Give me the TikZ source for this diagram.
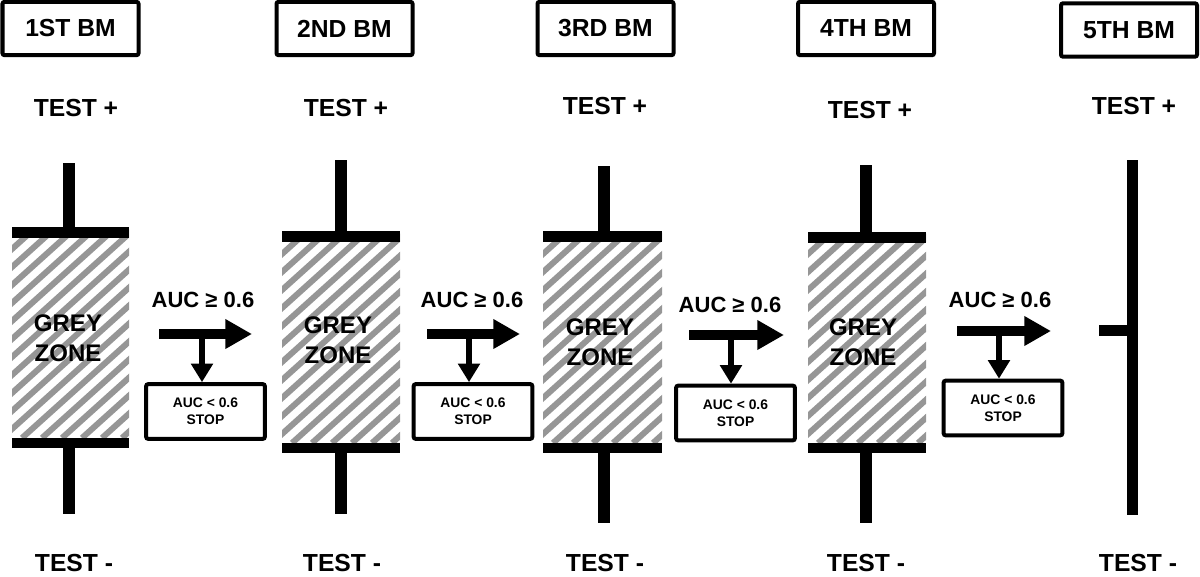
\documentclass[tikz,border=0pt]{standalone}
\usepackage{fontspec}
\setmainfont{Liberation Sans}
\usetikzlibrary{arrows.meta}
\definecolor{stripe}{RGB}{150,150,150}

\begin{document}
\begin{tikzpicture}[x=0.75pt,y=-0.75pt,
  bmbox/.style={rectangle,draw,line width=3pt,rounded corners=1.5pt,
                minimum width=102pt,minimum height=40pt,
                font=\fontsize{18.5}{22}\selectfont\bfseries},
  testlab/.style={font=\fontsize{18.5}{22}\selectfont\bfseries},
  zonelab/.style={align=center,font=\fontsize{18}{22.5}\selectfont\bfseries},
  auclab/.style={font=\fontsize{16.5}{20}\selectfont\bfseries},
  stopbox/.style={rectangle,draw,line width=3pt,rounded corners=1.5pt,
                  minimum width=89pt,minimum height=41pt,align=center,
                  font=\fontsize{10.4}{12.75}\selectfont\bfseries},
  goarrow/.style={line width=7pt,-{Triangle[length=20pt,width=21pt]}},
  stoparrow/.style={line width=4.5pt,-{Triangle[length=14pt,width=16pt]}},
  hatch/.style={stripe,line width=4.5pt}]

\useasboundingbox (0,0) rectangle (1200,576);

% grey zones with whiskers
\foreach \cx/\L/\R/\wt/\bt/\hb/\wb in {68.5/12/129/163/227/438/514,
    341/282/400/160/231/443/514, 604/543/662/166/231/443/523,
    866/808/926/165/232/443/523}{
  \begin{scope}
    \clip (\L,\bt) rectangle (\R,\hb);
    \foreach \k in {0,...,18}
      \draw[hatch] ({\L-230+20*\k},\hb) -- ++(260,-234);
  \end{scope}
  \fill ({\cx-6},\wt) rectangle ({\cx+6},\bt);
  \fill (\L,\bt) rectangle (\R,{\bt+11});
  \fill (\L,\hb) rectangle (\R,{\hb+10});
  \fill ({\cx-6},\hb) rectangle ({\cx+6},\wb);
}
% last marker
\fill (1127,160) rectangle (1138,515);
\fill (1099,325) rectangle (1128,336);

\node[bmbox] (bm1) at (70.5,28.5) {1ST BM};
\node[bmbox] (bm2) at (344.5,28.5) {2ND BM};
\node[bmbox] (bm3) at (605.5,28.5) {3RD BM};
\node[bmbox] (bm4) at (866,28.5) {4TH BM};
\node[bmbox] (bm5) at (1129,30) {5TH BM};

\node[testlab] (pos1) at (76,108) {TEST +};
\node[testlab] (pos2) at (346,108) {TEST +};
\node[testlab] (pos3) at (605,106) {TEST +};
\node[testlab] (pos4) at (870,110) {TEST +};
\node[testlab] (pos5) at (1134,106) {TEST +};

\node[testlab] (neg1) at (74,563) {TEST -};
\node[testlab] (neg2) at (342,563) {TEST -};
\node[testlab] (neg3) at (605,563) {TEST -};
\node[testlab] (neg4) at (866,563) {TEST -};
\node[testlab] (neg5) at (1138,563) {TEST -};

\node[zonelab] (zone1) at (68,338) {GREY\\ZONE};
\node[zonelab] (zone2) at (338,340) {GREY\\ZONE};
\node[zonelab] (zone3) at (600,342) {GREY\\ZONE};
\node[zonelab] (zone4) at (863,342) {GREY\\ZONE};

\node[auclab] (auc1) at (203,300) {AUC ≥ 0.6};
\node[auclab] (auc2) at (472,300) {AUC ≥ 0.6};
\node[auclab] (auc3) at (730,305) {AUC ≥ 0.6};
\node[auclab] (auc4) at (1000,300) {AUC ≥ 0.6};

\node[stopbox] (stop1) at (205.5,411.5) {AUC < 0.6\\STOP};
\node[stopbox] (stop2) at (473,411.5) {AUC < 0.6\\STOP};
\node[stopbox] (stop3) at (735.5,413) {AUC < 0.6\\STOP};
\node[stopbox] (stop4) at (1003,408) {AUC < 0.6\\STOP};

\coordinate (go1a) at (159,334);  \coordinate (go1b) at (252,334);
\coordinate (go2a) at (427,334);  \coordinate (go2b) at (520,334);
\coordinate (go3a) at (689,335);  \coordinate (go3b) at (784,335);
\coordinate (go4a) at (957,331);  \coordinate (go4b) at (1051,331);
\coordinate (split1) at (202,334);
\coordinate (split2) at (469,334);
\coordinate (split3) at (731,335);
\coordinate (split4) at (999,331);

\draw[goarrow] (go1a) -- (go1b);
\draw[goarrow] (go2a) -- (go2b);
\draw[goarrow] (go3a) -- (go3b);
\draw[goarrow] (go4a) -- (go4b);

\draw[stoparrow] (split1) -- (split1 |- stop1.north);
\draw[stoparrow] (split2) -- (split2 |- stop2.north);
\draw[stoparrow] (split3) -- (split3 |- stop3.north);
\draw[stoparrow] (split4) -- (split4 |- stop4.north);
\end{tikzpicture}
\end{document}
